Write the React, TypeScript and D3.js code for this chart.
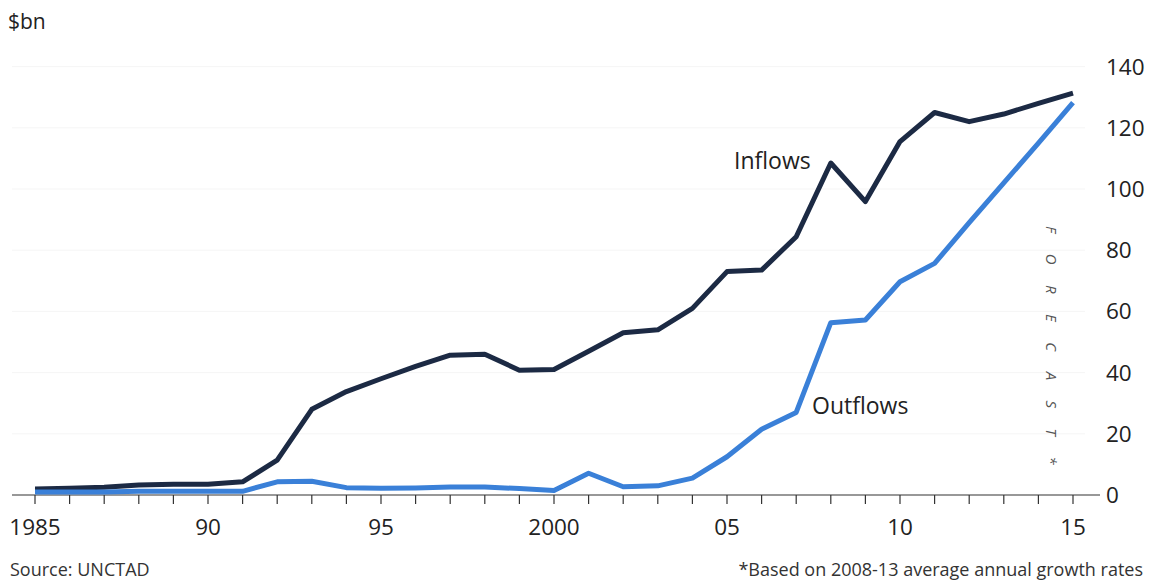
import React from "react";
import * as d3 from "d3";

const years = d3.range(1985, 2016);
const inflows = [2, 2.2, 2.5, 3.3, 3.5, 3.5, 4.3, 11.4, 28, 33.8, 38, 42, 45.7, 46, 40.8, 41, 47, 53, 54, 61, 73, 73.5, 84.4, 108.5, 95.9, 115.5, 125, 122, 124.5, 128, 131.3];
const outflows = [1, 1, 1, 1.2, 1.2, 1.2, 1.2, 4.3, 4.5, 2.4, 2.2, 2.3, 2.6, 2.6, 2.1, 1.5, 7.1, 2.7, 3, 5.5, 12.5, 21.5, 27, 56.3, 57.2, 69.7, 75.7, 89, 102, 115, 128.2];
const yTicks = [0, 20, 40, 60, 80, 100, 120, 140];
const xLabels: [number, string][] = [[1985, "1985"], [1990, "90"], [1995, "95"], [2000, "2000"], [2005, "05"], [2010, "10"], [2015, "15"]];

const FONT = "'Open Sans', sans-serif";

export default function App() {
  const x = d3.scaleLinear().domain([1985, 2015]).range([35, 1073]);
  const y = d3.scaleLinear().domain([0, 140]).range([495, 66.6]);
  const line = d3.line<number>().x((_, i) => x(years[i])).y((d) => y(d));

  return (
    <svg width={1150} height={582} style={{ position: "absolute", left: 0, top: 0, background: "#fff" }}>
      {yTicks.filter((t) => t > 0).map((t) => (
        <line key={t} x1={12} x2={1085} y1={y(t)} y2={y(t)} stroke="#f5f5f5" strokeWidth={1} />
      ))}
      <line x1={12} x2={1100} y1={y(0)} y2={y(0)} stroke="#333" strokeWidth={1.2} />
      {years.map((yr) => (
        <line key={yr} x1={x(yr)} x2={x(yr)} y1={y(0)} y2={y(0) + 9} stroke="#333" strokeWidth={1.2} />
      ))}
      {xLabels.map(([yr, lab]) => (
        <text key={yr} x={x(yr)} y={535} textAnchor="middle" fontFamily={FONT} fontSize={22.5} fill="#222">{lab}</text>
      ))}
      {yTicks.map((t) => (
        <text key={t} x={1106} y={y(t) + 8} textAnchor="start" fontFamily={FONT} fontSize={22.5} fill="#222">{t}</text>
      ))}
      <path d={line(inflows) || ""} fill="none" stroke="#1c2a44" strokeWidth={5} strokeLinejoin="round" />
      <path d={line(outflows) || ""} fill="none" stroke="#3a80d8" strokeWidth={5} strokeLinejoin="round" />
      <text x={734} y={169} fontFamily={FONT} fontSize={23} fill="#222">Inflows</text>
      <text x={812} y={414} fontFamily={FONT} fontSize={23} fill="#222">Outflows</text>
      <text transform="translate(1046,226) rotate(90)" fontFamily={FONT} fontSize={15} fontStyle="italic" fill="#555" letterSpacing={20.5}>FORECAST*</text>
      <text x={8} y={29} fontFamily={FONT} fontSize={21} fill="#222">$bn</text>
      <text x={10} y={576} fontFamily={FONT} fontSize={18} fill="#333">Source: UNCTAD</text>
      <text x={1143} y={576} textAnchor="end" fontFamily={FONT} fontSize={18} fill="#333">*Based on 2008-13 average annual growth rates</text>
    </svg>
  );
}
